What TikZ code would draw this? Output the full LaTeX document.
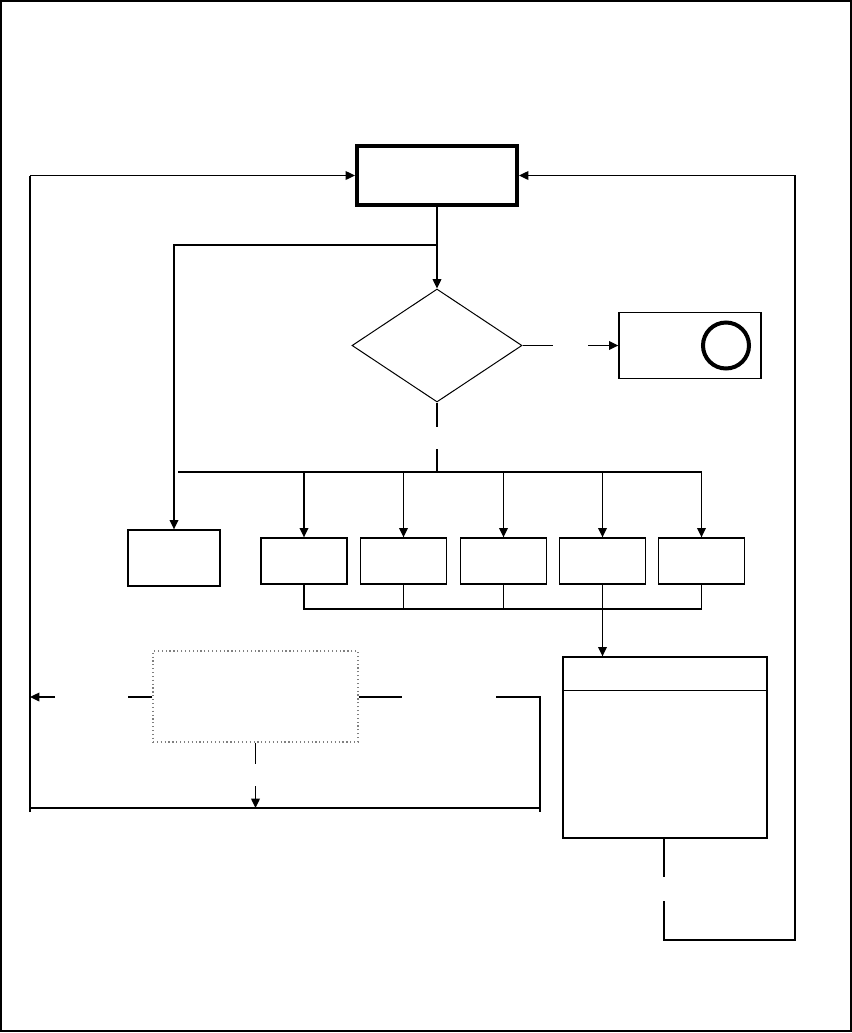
\documentclass[tikz,border=0pt]{standalone}
\usetikzlibrary{arrows.meta,shapes.geometric,calc}
\begin{document}
\begin{tikzpicture}[x=0.75pt,y=-0.75pt,
  ln/.style={line width=1pt},
  arr/.style={line width=1pt,-{Triangle[length=7pt,width=6.5pt]}},
  box/.style={draw,line width=1pt,rectangle,inner sep=0pt},
  smallbox/.style={box,minimum width=64.5pt,minimum height=34.5pt},
]
\useasboundingbox (0,0) rectangle (852,1033);
\draw[line width=1pt] (1,1) rectangle (851,1031);

% nodes
\node[box,line width=3pt,minimum width=120pt,minimum height=44.25pt] (top) at (437,175.5) {};
\node[draw,diamond,line width=0.75pt,inner sep=0pt,minimum width=127.5pt,minimum height=84.75pt] (dia) at (437,345.5) {};
\node[box,minimum width=106.5pt,minimum height=49.5pt] (rbox) at (690,345.5) {};
\node[draw,circle,line width=3pt,inner sep=0pt,minimum size=34.5pt] (circ) at (726,345.5) {};
\node[box,minimum width=69pt,minimum height=42pt] (lbox) at (174,558) {};
\node[smallbox] (b1) at (304,561) {};
\node[smallbox] (b2) at (403.5,561) {};
\node[smallbox] (b3) at (503.5,561) {};
\node[smallbox] (b4) at (602.5,561) {};
\node[smallbox] (b5) at (701.5,561) {};
\node[box,minimum width=153pt,minimum height=135.75pt] (res) at (665,747.5) {};
\node[draw=gray,dotted,line width=0.9pt,inner sep=0pt,minimum width=153.75pt,minimum height=68.25pt] (dot) at (255.5,696.5) {};

% result box header line
\draw[ln] ($(res.north west)+(0,34)$) -- ($(res.north east)+(0,34)$);

% top box to diamond and left branch
\draw[arr] (top.south) -- (dia.north);
\coordinate (br) at (437,245);
\coordinate (brl) at (174,245);
\draw[arr] (br) -- (brl) -- (lbox.north);

% diamond right
\coordinate (r1) at (553,345.5);
\coordinate (r2) at (588,345.5);
\draw[ln] (dia.east) -- (r1);
\draw[arr] (r2) -- (rbox.west);

% diamond bottom
\coordinate (d1) at (437,427);
\coordinate (d2) at (437,449);
\coordinate (d3) at (437,472);
\draw[ln] (dia.south) -- (d1);
\draw[ln] (d2) -- (d3);

% upper bus
\coordinate (busL) at (178,472);
\coordinate (busR) at (701.5,472);
\draw[ln] (busL) -- (busR);
\foreach \b in {b1,b2,b3,b4,b5}{
  \draw[arr] (\b.north |- busL) -- (\b.north);
}

% lower bus
\coordinate (lb) at (0,609);
\draw[ln] (b1.south) -- (b1.south |- lb) -- (b5.south |- lb) -- (b5.south);
\foreach \b in {b2,b3,b4}{
  \draw[ln] (\b.south) -- (\b.south |- lb);
}
\draw[arr] (b4.south |- lb) -- (b4.south |- res.north);

% result box loop back to top
\coordinate (rb1) at (664,877);
\coordinate (rb2) at (664,901);
\coordinate (rb3) at (664,940);
\coordinate (rb4) at (795,940);
\coordinate (rb5) at (795,175.5);
\draw[ln] (rb1 |- res.south) -- (rb1);
\draw[arr] (rb2) -- (rb3) -- (rb4) -- (rb5) -- (top.east);

% left loop
\coordinate (L1) at (30,175.5);
\coordinate (LB) at (30,812);
\draw[ln] (LB) -- (L1);
\draw[arr] (L1) -- (top.west);

% bottom line
\coordinate (BL) at (30,808);
\coordinate (BR) at (540,808);
\coordinate (BRt) at (540,812);
\draw[ln] (BL) -- (BR);

% dotted box connectors
\coordinate (dr1) at (402,697);
\coordinate (dr2) at (496,697);
\coordinate (dr3) at (540,697);
\draw[ln] (dot.east |- dr1) -- (dr1);
\draw[ln] (dr2) -- (dr3) -- (BRt);
\coordinate (dl1) at (128,697);
\coordinate (dl2) at (55,697);
\coordinate (dl3) at (30,697);
\draw[ln] (dot.west |- dl1) -- (dl1);
\draw[arr] (dl2) -- (dl3);
\coordinate (db1) at (255.5,764);
\coordinate (db2) at (255.5,786);
\coordinate (db3) at (255.5,808);
\draw[ln] (dot.south) -- (db1);
\draw[arr] (db2) -- (db3);
\end{tikzpicture}
\end{document}
